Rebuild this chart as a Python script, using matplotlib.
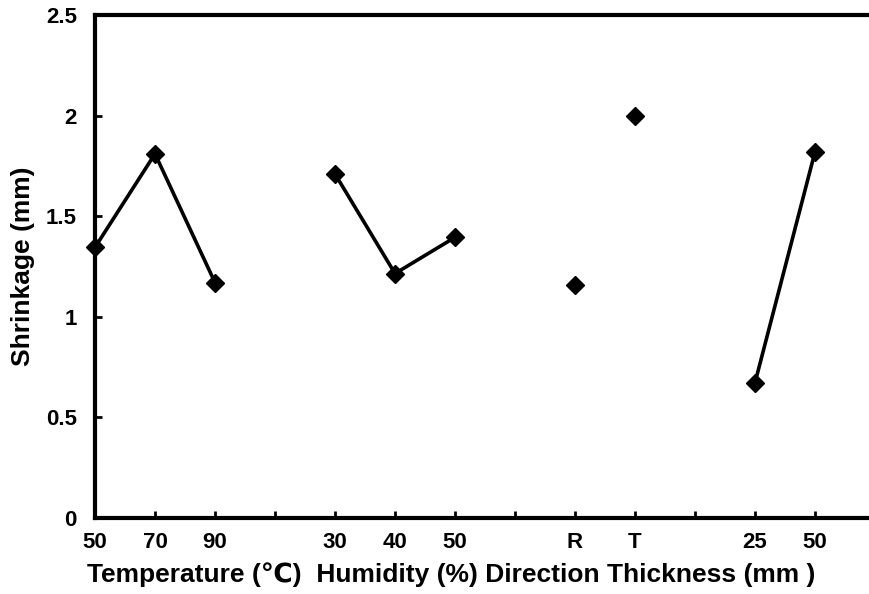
import matplotlib
matplotlib.use("Agg")
import matplotlib.pyplot as plt

plt.rcParams['font.family'] = ['Liberation Sans', 'DejaVu Sans', 'Noto Sans CJK SC']
plt.rcParams['font.weight'] = 'bold'

# Data
temperature_labels = ["50", "70", "90"]
temperature_values = [1.345, 1.81, 1.17]
humidity_labels = ["30", "40", "50"]
humidity_values = [1.71, 1.215, 1.395]
direction_labels = ["R", "T"]
direction_values = [1.16, 2.0]
thickness_labels = ["25", "50"]
thickness_values = [0.672, 1.82]

groups = [
    (temperature_labels, temperature_values, True),
    (humidity_labels, humidity_values, True),
    (direction_labels, direction_values, False),
    (thickness_labels, thickness_values, True),
]

fig = plt.figure(figsize=(8.69, 5.94), dpi=100)
ax = fig.add_axes([95/869, 1-518/594, 1-95/869, (518-15)/594])

tick_pos = []
tick_lab = []
pos = 0
for labels, values, connect in groups:
    xs = list(range(pos, pos + len(labels)))
    ax.plot(xs, values, color='black', lw=2.6 if connect else 0,
            marker='D', markersize=9.5, clip_on=False, zorder=3)
    tick_pos += xs
    tick_lab += labels
    pos += len(labels)
    if pos < 13:
        tick_pos.append(pos)
        tick_lab.append("")
    pos += 1

ax.set_xlim(0, 12.9)
ax.set_ylim(0, 2.5)
ax.set_xticks(tick_pos)
ax.set_xticklabels(tick_lab)
ax.set_yticks([0, 0.5, 1, 1.5, 2, 2.5])
ax.set_yticklabels(["0", "0.5", "1", "1.5", "2", "2.5"])

for s in ['left', 'bottom', 'top']:
    ax.spines[s].set_linewidth(3)
ax.spines['right'].set_visible(False)

ax.tick_params(axis='x', direction='in', length=5, width=2, pad=10, labelsize=16)
ax.tick_params(axis='y', direction='in', length=5, width=2, pad=13, labelsize=16)
for t in ax.get_xticklabels() + ax.get_yticklabels():
    t.set_fontweight('bold')

ax.set_ylabel("Shrinkage (mm)", fontsize=19, fontweight='bold')
ax.yaxis.set_label_coords((35-95)/774, 0.5)
ax.set_xlabel("Temperature (\u2103)  Humidity (%) Direction Thickness (mm )",
              fontsize=19, fontweight='bold', va='top')
ax.xaxis.set_label_coords((451-95)/774, -(562-518)/503)

fig.savefig("out.png", dpi=100)
